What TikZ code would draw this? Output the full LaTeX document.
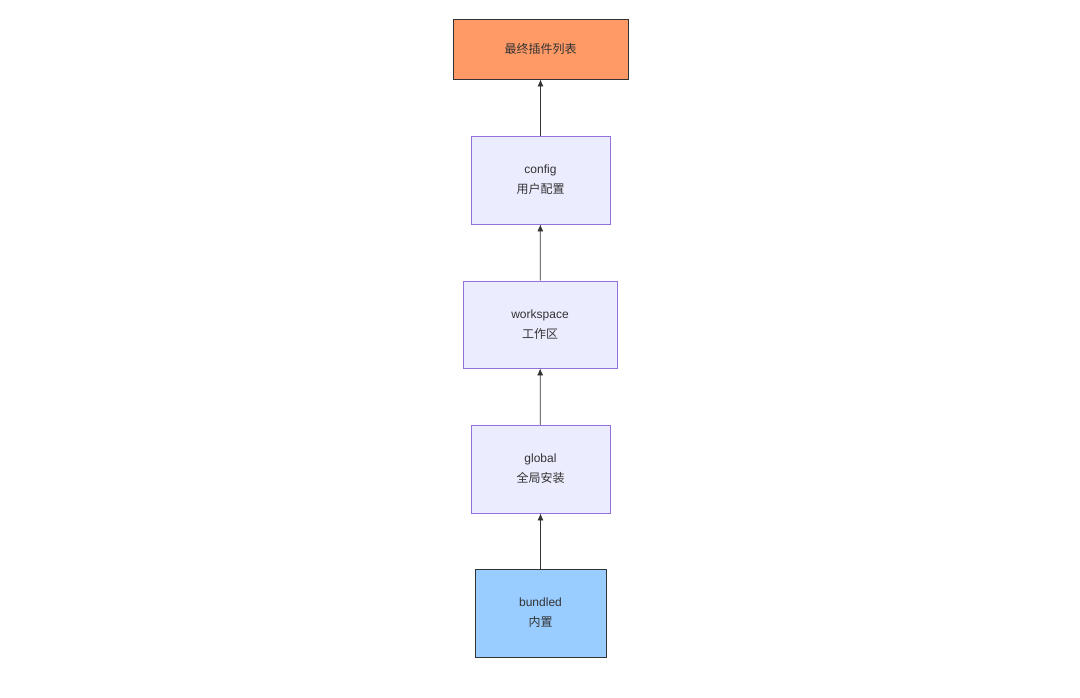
\documentclass[tikz,border=0pt]{standalone}
\usepackage{fontspec}
\setmainfont{Liberation Sans}
\newfontfamily\cjk{Noto Sans CJK SC}
\usetikzlibrary{arrows.meta}
\definecolor{lav}{HTML}{ECECFF}
\definecolor{lavb}{HTML}{9370DB}
\definecolor{org}{HTML}{FF9966}
\definecolor{blu}{HTML}{99CCFF}
\definecolor{txt}{HTML}{333333}
\begin{document}
\begin{tikzpicture}[x=1pt,y=-1pt,
 box/.style={draw=lavb,fill=lav,line width=0.8pt,text=txt,align=center,font=\fontsize{12}{20}\selectfont},
 dark/.style={draw=txt,line width=0.8pt},
 arr/.style={draw=txt,line width=0.8pt,-{Latex[length=7pt,width=6pt]}}]
\useasboundingbox (0,0) rectangle (1080,697);
\node[box,dark,fill=org,minimum width=175pt,minimum height=60pt] (final) at (540.5,49) {\cjk 最终插件列表};
\node[box,minimum width=139pt,minimum height=88pt] (config) at (540.5,180) {config\\\cjk 用户配置};
\node[box,minimum width=154pt,minimum height=87pt] (ws) at (540,324.5) {workspace\\\cjk 工作区};
\node[box,minimum width=139pt,minimum height=88pt] (global) at (540.5,469) {global\\\cjk 全局安装};
\node[box,dark,fill=blu,minimum width=131pt,minimum height=88pt] (bundled) at (540.5,613) {bundled\\\cjk 内置};
\draw[arr] (bundled) -- (global);
\draw[arr] (global) -- (ws);
\draw[arr] (ws) -- (config);
\draw[arr] (config) -- (final);
\end{tikzpicture}
\end{document}
